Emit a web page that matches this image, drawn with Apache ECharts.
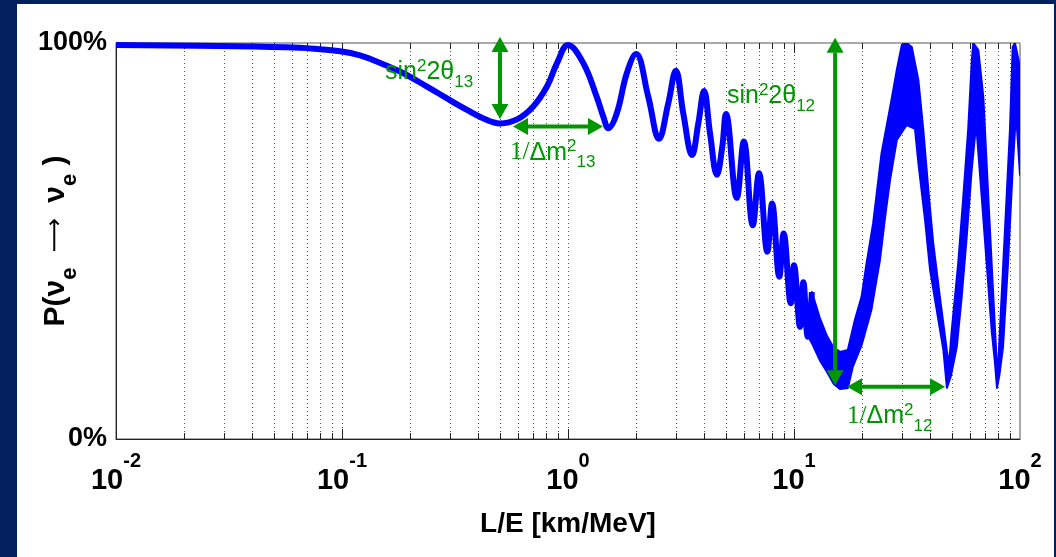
<!DOCTYPE html>
<html lang="en">
<head>
<meta charset="UTF-8">
<title>P(νe → νe) vs L/E</title>
<style>
  html, body { margin:0; padding:0; background:#03205f; overflow:hidden; }
  #main { position:absolute; left:17px; top:4px; width:1037px; height:553px; background:#fff; }
</style>
</head>
<body>
<div id="main"></div>
<script src="https://cdn.jsdelivr.net/npm/echarts@6/dist/echarts.min.js"></script>
<script>
// survival probability (L/E in km/MeV, P as a fraction)
var curveLE = [0.01, 0.0343, 0.0652, 0.080, 0.098, 0.120, 0.137, 0.1805, 0.2377, 0.2914, 0.3573, 0.4206,
  0.5, 0.5946, 0.700, 0.807, 0.894, 1.0, 1.169, 1.340, 1.433, 1.508, 1.643, 1.819, 2.0,
  2.266, 2.527, 2.778, 3.0, 3.237, 3.54, 3.772, 4.0, 4.25, 4.56, 4.816, 5.0, 5.58, 6.0,
  6.57, 7.0, 7.62, 8.0, 8.61, 9.0, 9.67, 10.0, 10.63, 11.0, 11.5, 12.0];
var curveP = [0.995, 0.992, 0.988, 0.984, 0.979, 0.969, 0.957, 0.928, 0.890, 0.860, 0.831, 0.810,
  0.797, 0.807, 0.839, 0.890, 0.949, 0.995, 0.949, 0.864, 0.814, 0.785, 0.822, 0.923, 0.972,
  0.864, 0.758, 0.848, 0.930, 0.822, 0.717, 0.797, 0.879, 0.772, 0.667, 0.738, 0.821, 0.609, 0.751,
  0.540, 0.671, 0.473, 0.595, 0.410, 0.519, 0.343, 0.439, 0.283, 0.396, 0.258, 0.371];

// beyond ~12 km/MeV the fast wiggles merge into a band: its upper and lower edge
var upperLE = [11.5, 12, 13, 14, 15, 16, 17.3, 18.6, 19.9, 20.95, 22.4, 24.4, 27.0, 28.5, 30.0,
  31.5, 33.2, 35.5, 37.3, 39.3, 41.3, 44.2, 47.4, 48.5, 49.9, 53.3, 56.1, 59.0, 61.1, 62.1,
  65.4, 68.8, 72.4, 76.2, 78.9, 80.0, 81.5, 85.8, 90.3, 92.8, 95.0, 100];
var upperP = [0.30, 0.371, 0.306, 0.260, 0.230, 0.220, 0.225, 0.301, 0.359, 0.444, 0.545, 0.722, 0.856, 0.932, 0.995,
  1.0, 0.990, 0.907, 0.783, 0.629, 0.495, 0.359, 0.225, 0.187, 0.275, 0.444, 0.611, 0.783, 0.949, 1.0,
  0.982, 0.864, 0.611, 0.359, 0.192, 0.18, 0.275, 0.528, 0.783, 0.990, 1.0, 0.939];
var lowerLE = [11.5, 12, 13, 14, 15, 16, 17.3, 18.2, 19.9, 22.0, 24.0, 25.3, 26.6, 28.5, 31.5,
  34.3, 35.5, 38.0, 40.0, 42.8, 45.8, 47.5, 49.5, 52.5, 55.2, 58.1, 61.1, 63.7, 64.3, 67.7,
  71.2, 74.9, 77.5, 79.1, 81.0, 84.1, 88.5, 93.1, 95.0, 97.0, 100];
var lowerP = [0.26, 0.242, 0.199, 0.169, 0.139, 0.126, 0.129, 0.182, 0.237, 0.326, 0.452, 0.561, 0.654, 0.755, 0.793,
  0.783, 0.697, 0.553, 0.427, 0.326, 0.225, 0.129, 0.16, 0.232, 0.359, 0.510, 0.679, 0.785, 0.780, 0.611,
  0.444, 0.275, 0.192, 0.129, 0.16, 0.232, 0.444, 0.697, 0.780, 0.785, 0.667];

// dotted grid lines, one per log tick
var majorTicks = [0.1, 1, 10];
var minorTicks = [0.02, 0.03, 0.04, 0.05, 0.06, 0.07, 0.08, 0.09,
  0.2, 0.3, 0.4, 0.5, 0.6, 0.7, 0.8, 0.9,
  2, 3, 4, 5, 6, 7, 8, 9,
  20, 30, 40, 50, 60, 70, 80, 90];

// green double arrows: [LE1, P1, LE2, P2]
var arrows = [
  [0.5, 1.015, 0.5, 0.808],
  [0.571, 0.789, 1.428, 0.789],
  [15.2, 1.013, 15.2, 0.136],
  [17.16, 0.132, 46.6, 0.132]
];
// labels: [LE (left edge), P (middle), rich text]
var notes = [
  [0.155, 0.927, '{m|sin}{p|2}{m|2θ}{b|13}'],
  [0.554, 0.723, '{r|1/}{m|Δm}{p|2}{b|13}'],
  [5.05, 0.865, '{m|sin}{p|2}{m|2θ}{b|12}'],
  [17.16, 0.057, '{r|1/}{m|Δm}{p|2}{b|12}']
];

var blue = '#0000ff';
var green = '#009600';
var sans = "'Liberation Sans', Arial, sans-serif";

var myChart = echarts.init(document.getElementById('main'));

function renderGrid(params, api) {
  var v = api.value(0);
  var top = api.coord([v, 1]);
  var bot = api.coord([v, 0]);
  var x = Math.round(top[0]) + 0.5;
  var len = majorTicks.indexOf(v) >= 0 ? 10 : 6;
  return {
    type: 'group',
    children: [
      { type: 'line', shape: { x1: x, y1: top[1], x2: x, y2: bot[1] },
        style: { stroke: '#555', lineWidth: 1, lineDash: [1, 3] } },
      { type: 'line', shape: { x1: x, y1: bot[1], x2: x, y2: bot[1] - len },
        style: { stroke: '#222', lineWidth: 1 } },
      { type: 'line', shape: { x1: x, y1: top[1], x2: x, y2: top[1] + len },
        style: { stroke: '#222', lineWidth: 1 } }
    ]
  };
}

function renderBand(params, api) {
  var pts = [];
  for (var i = 0; i < upperLE.length; i++) pts.push(api.coord([upperLE[i], upperP[i]]));
  for (var j = lowerLE.length - 1; j >= 0; j--) pts.push(api.coord([lowerLE[j], lowerP[j]]));
  return {
    type: 'polygon',
    shape: { points: pts },
    style: { fill: blue, stroke: blue, lineWidth: 2, lineJoin: 'round' }
  };
}

function renderArrow(params, api) {
  var a = arrows[params.dataIndex];
  var p1 = api.coord([a[0], a[1]]);
  var p2 = api.coord([a[2], a[3]]);
  var dx = p2[0] - p1[0], dy = p2[1] - p1[1];
  var len = Math.sqrt(dx * dx + dy * dy);
  var ux = dx / len, uy = dy / len;
  var hl = 15, hw = 8.5;
  function head(tip, sx, sy) {
    var bx = tip[0] - sx * hl, by = tip[1] - sy * hl;
    return {
      type: 'polygon',
      shape: { points: [tip, [bx - sy * hw, by + sx * hw], [bx + sy * hw, by - sx * hw]] },
      style: { fill: green }
    };
  }
  return {
    type: 'group',
    children: [
      { type: 'line',
        shape: { x1: p1[0] + ux * hl, y1: p1[1] + uy * hl, x2: p2[0] - ux * hl, y2: p2[1] - uy * hl },
        style: { stroke: green, lineWidth: 4 } },
      head(p2, ux, uy),
      head(p1, -ux, -uy)
    ]
  };
}

var noteRich = {
  m: { fontSize: 25, fontFamily: 'Liberation Sans', fill: green, lineHeight: 40, verticalAlign: 'middle' },
  r: { fontSize: 25, fontFamily: 'Liberation Serif', fill: green, lineHeight: 40, verticalAlign: 'middle' },
  p: { fontSize: 17, fontFamily: 'Liberation Sans', fill: green, height: 28, verticalAlign: 'top' },
  b: { fontSize: 17, fontFamily: 'Liberation Sans', fill: green, height: 20, verticalAlign: 'bottom' }
};

function renderNote(params, api) {
  var n = notes[params.dataIndex];
  var p = api.coord([n[0], n[1]]);
  return {
    type: 'text',
    x: p[0],
    y: p[1],
    style: { text: n[2], rich: noteRich, fill: green, align: 'left', verticalAlign: 'middle' }
  };
}

var option = {
  animation: false,
  grid: {
    left: 99, top: 39, width: 904, height: 396,
    containLabel: false, outerBoundsMode: 'none',
    show: true, borderColor: '#555', borderWidth: 1
  },
  xAxis: {
    type: 'log',
    logBase: 10,
    min: 0.01,
    max: 100,
    name: 'L/E [km/MeV]',
    nameLocation: 'middle',
    nameGap: 69,
    nameMoveOverlap: false,
    nameTextStyle: { fontSize: 28, fontWeight: 'bold', fontFamily: sans, color: '#000', lineHeight: 32 },
    axisLine: { lineStyle: { color: '#222' } },
    axisTick: { show: false },
    splitLine: { show: false },
    axisLabel: {
      margin: 7,
      showMinLabel: true,
      showMaxLabel: true,
      formatter: function (v) {
        return '{b|10}{s|' + Math.round(Math.log10(v)) + '}';
      },
      rich: {
        b: { fontSize: 29, fontFamily: sans, fontWeight: 'bold', color: '#000', lineHeight: 50, height: 30, verticalAlign: 'bottom' },
        s: { fontSize: 20, fontFamily: sans, fontWeight: 'bold', color: '#000', height: 30, verticalAlign: 'top' }
      }
    }
  },
  yAxis: {
    type: 'value',
    min: 0,
    max: 1,
    interval: 1,
    name: '{a|P(ν}{e|e}{r|  ⟶  }{a|ν}{e|e}{a| )}',
    nameLocation: 'middle',
    nameRotate: 90,
    nameGap: 38,
    nameMoveOverlap: false,
    nameTextStyle: {
      rich: {
        a: { fontSize: 30, fontWeight: 'bold', fontFamily: sans, color: '#000', lineHeight: 44, verticalAlign: 'middle' },
        r: { fontSize: 24, fontFamily: "'DejaVu Sans', sans-serif", color: '#000', lineHeight: 44, verticalAlign: 'middle' },
        e: { fontSize: 22, fontWeight: 'bold', fontFamily: sans, color: '#000', height: 16, verticalAlign: 'bottom' }
      }
    },
    axisLine: { show: true, lineStyle: { color: '#222' } },
    axisTick: { show: false },
    splitLine: { show: false },
    axisLabel: {
      margin: 9,
      fontSize: 27,
      fontWeight: 'bold',
      fontFamily: sans,
      color: '#000',
      formatter: function (v) { return Math.round(v * 100) + '%'; }
    }
  },
  series: [
    {
      type: 'custom',
      z: 1,
      silent: true,
      renderItem: renderGrid,
      data: majorTicks.concat(minorTicks).map(function (v) { return [v, 0]; })
    },
    {
      type: 'custom',
      z: 2,
      clip: true,
      silent: true,
      renderItem: renderBand,
      data: [[upperLE[0], upperP[0]]]
    },
    {
      type: 'line',
      z: 3,
      smooth: 0.4,
      showSymbol: false,
      silent: true,
      lineStyle: { color: blue, width: 6 },
      data: curveLE.map(function (x, i) { return [x, curveP[i]]; })
    },
    {
      type: 'custom',
      z: 4,
      clip: false,
      silent: true,
      renderItem: renderArrow,
      data: arrows.map(function (a) { return [a[0], a[1]]; })
    },
    {
      type: 'custom',
      z: 5,
      clip: false,
      silent: true,
      renderItem: renderNote,
      data: notes.map(function (n) { return [n[0], n[1]]; })
    }
  ]
};

myChart.setOption(option);
</script>
</body>
</html>
